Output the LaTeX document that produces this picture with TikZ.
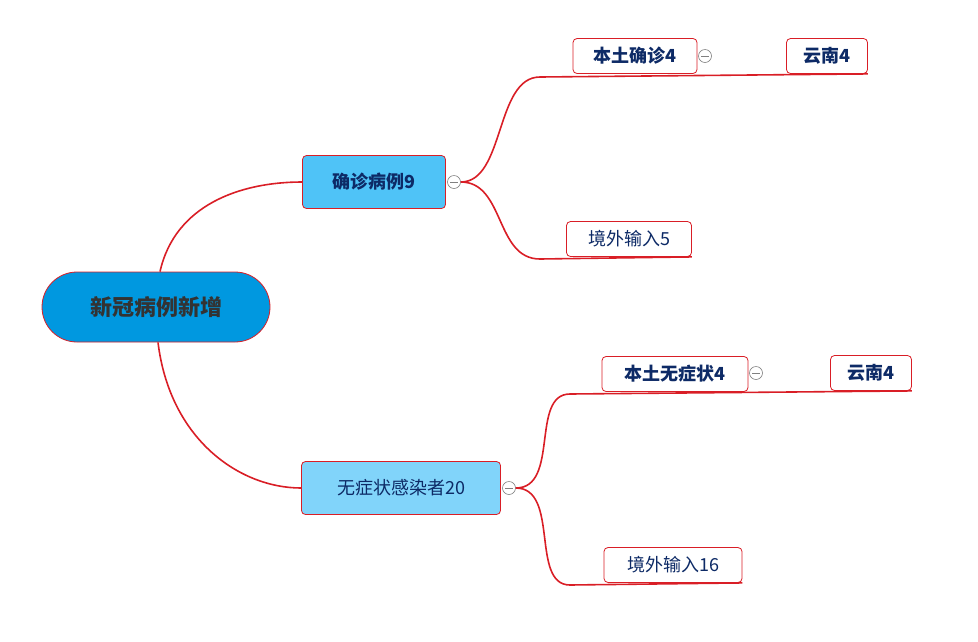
\documentclass[tikz,border=0pt]{standalone}
\usepackage{fontspec}
\setmainfont{Noto Sans CJK SC}
\definecolor{navy}{HTML}{0D2A66}
\definecolor{linkred}{HTML}{D91E26}
\tikzset{
  base/.style={draw=linkred, line width=0.8pt, rounded corners=4pt, text=navy, inner sep=0pt},
  rootbox/.style={base, rounded corners=35pt, fill=rootblue, minimum width=228pt, minimum height=70pt, text=black!80, font=\fontsize{22}{26}\selectfont\bfseries},
  mainbox/.style={base, minimum height=53pt, font=\fontsize{18}{22}\selectfont},
  leafbox/.style={base, fill=white, minimum height=35pt, font=\fontsize{18}{22}\selectfont},
  link/.style={draw=linkred, line width=1.6pt},
  fold/.style={draw=gray, line width=0.6pt, fill=white, circle, minimum size=13pt, inner sep=0pt,
    path picture={\draw[gray, line width=0.8pt] ([xshift=-4pt]path picture bounding box.center) -- ([xshift=4pt]path picture bounding box.center);}}
}
\definecolor{rootblue}{HTML}{0098E0}
\definecolor{midblue}{HTML}{4FC3F7}
\definecolor{lightblue}{HTML}{81D4FA}
\begin{document}
\begin{tikzpicture}[x=1pt, y=-1pt]
\useasboundingbox (0,0) rectangle (978,641);

% Main branches
\node[rootbox] (root) at (156,307) {新冠病例新增};
\node[mainbox, fill=midblue, minimum width=143pt, font=\fontsize{18}{22}\selectfont\bfseries] (confirm) at (374,182) {确诊病例9};
\node[mainbox, fill=lightblue, minimum width=199pt] (asym) at (401,488) {无症状感染者20};

% Leaves
\node[leafbox, minimum width=124pt, font=\fontsize{18}{22}\selectfont\bfseries] (localc) at (635,56) {本土确诊4};
\node[leafbox, minimum width=81pt, font=\fontsize{18}{22}\selectfont\bfseries] (yunc) at (827,56) {云南4};
\node[leafbox, minimum width=125pt] (importc) at (629,239) {境外输入5};
\node[leafbox, minimum width=146pt, font=\fontsize{18}{22}\selectfont\bfseries] (locala) at (675,374) {本土无症状4};
\node[leafbox, minimum width=81pt, font=\fontsize{18}{22}\selectfont\bfseries] (yuna) at (871,373) {云南4};
\node[leafbox, minimum width=138pt] (importa) at (673,565) {境外输入16};

% Fold markers
\node[fold] (fconfirm) at (454,182) {};
\node[fold] (flocalc) at (705,56) {};
\node[fold] (flocala) at (756,373) {};
\node[fold] (fasym) at (509,488) {};

% Underlines
\coordinate (uc1) at (540,77);
\coordinate (uc2) at (540,259);
\coordinate (ua1) at (570,394);
\coordinate (ua2) at (570,585);
\draw[link] (uc1) -- (yunc.south east);
\draw[link] (uc2) -- (importc.south east);
\draw[link] (ua1) -- (yuna.south east);
\draw[link] (ua2) -- (importa.south east);

% Connectors
\draw[link] ([xshift=4pt]root.north) .. controls (175,205) and (240,182) .. (confirm.west);
\draw[link] ([xshift=2pt]root.south) .. controls (170,440) and (240,488) .. (asym.west);
\draw[link] (fconfirm.east) .. controls (505,182) and (495,77) .. (uc1);
\draw[link] (fconfirm.east) .. controls (505,182) and (495,259) .. (uc2);
\draw[link] (fasym.east) .. controls (560,488) and (530,394) .. (ua1);
\draw[link] (fasym.east) .. controls (560,488) and (530,585) .. (ua2);
\end{tikzpicture}
\end{document}
